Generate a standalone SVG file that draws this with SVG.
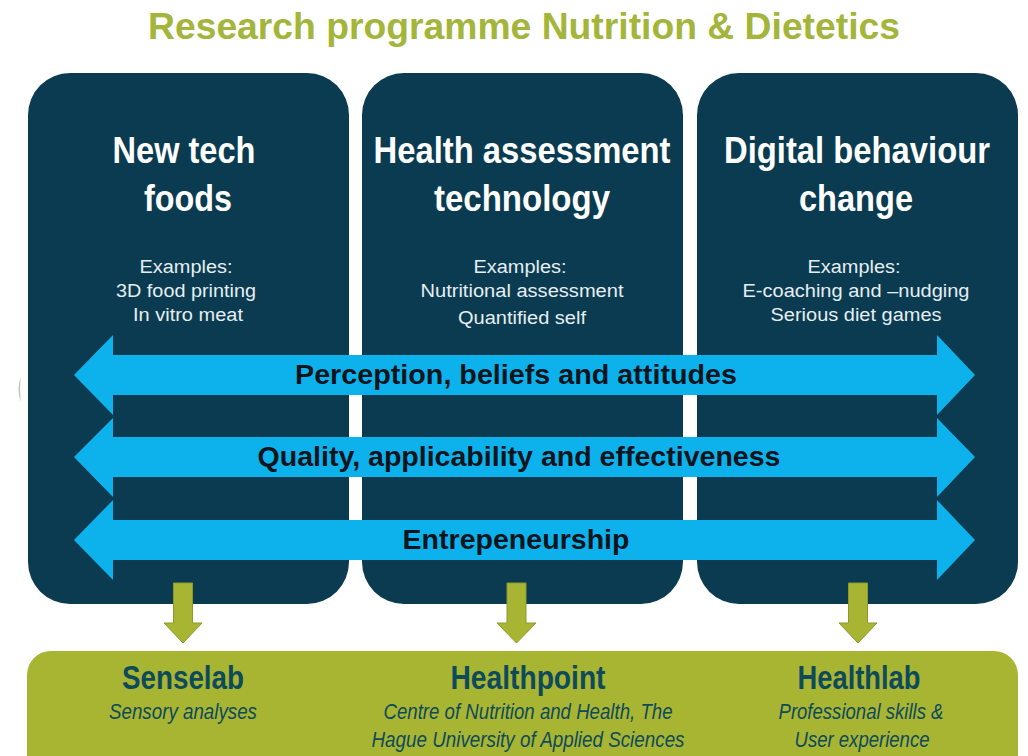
<svg xmlns="http://www.w3.org/2000/svg" width="1028" height="756" viewBox="0 0 1028 756">
  <style>
    .box { fill: #0a3b50; }
    .band { fill: #0db2ec; }
    .gbox { fill: #a8b533; }
    .garrow { fill: #a8b533; stroke: #8c9a2a; stroke-width: 1; }
    .title { font-family: "Liberation Sans", Arial, sans-serif; font-weight: bold; font-size: 36px; fill: #a3b53a; }
    .htitle { font-family: "Liberation Sans", Arial, sans-serif; font-weight: bold; font-size: 37px; fill: #ffffff; text-anchor: middle; }
    .ex { font-family: "Liberation Sans", Arial, sans-serif; font-size: 18px; fill: #e6eef2; text-anchor: middle; }
    .blabel { font-family: "Liberation Sans", Arial, sans-serif; font-weight: bold; font-size: 27px; fill: #06141c; text-anchor: middle; }
    .lab { font-family: "Liberation Sans", Arial, sans-serif; font-weight: bold; font-size: 33px; fill: #0e4a5a; text-anchor: middle; }
    .labsub { font-family: "Liberation Sans", Arial, sans-serif; font-style: italic; font-size: 22px; fill: #0e4a5a; text-anchor: middle; }
  </style>
  <rect width="1028" height="756" fill="#ffffff"/>

  <text class="title" x="148" y="39" textLength="752" lengthAdjust="spacingAndGlyphs">Research programme Nutrition &amp; Dietetics</text>

  <path d="M21 377 Q16 389 21 402 Q19 389 21 377 Z" fill="#bdbdbd"/>

  <g id="node-newtech">
    <rect class="box" x="28" y="73" width="321" height="531" rx="42"/>
    <text class="htitle" x="184" y="163" textLength="143" lengthAdjust="spacingAndGlyphs">New tech</text>
    <text class="htitle" x="188" y="211" textLength="88" lengthAdjust="spacingAndGlyphs">foods</text>
    <text class="ex" x="186" y="273" textLength="93" lengthAdjust="spacingAndGlyphs">Examples:</text>
    <text class="ex" x="186" y="297" textLength="140" lengthAdjust="spacingAndGlyphs">3D food printing</text>
    <text class="ex" x="188" y="321" textLength="110" lengthAdjust="spacingAndGlyphs">In vitro meat</text>
  </g>

  <g id="node-healthassessment">
    <rect class="box" x="362" y="73" width="321" height="531" rx="42"/>
    <text class="htitle" x="522" y="163" textLength="297" lengthAdjust="spacingAndGlyphs">Health assessment</text>
    <text class="htitle" x="522" y="211" textLength="176" lengthAdjust="spacingAndGlyphs">technology</text>
    <text class="ex" x="520" y="273" textLength="93" lengthAdjust="spacingAndGlyphs">Examples:</text>
    <text class="ex" x="522" y="297" textLength="203" lengthAdjust="spacingAndGlyphs">Nutritional assessment</text>
    <text class="ex" x="522" y="324" textLength="128" lengthAdjust="spacingAndGlyphs">Quantified self</text>
  </g>

  <g id="node-digital">
    <rect class="box" x="697" y="73" width="321" height="531" rx="42"/>
    <text class="htitle" x="857" y="163" textLength="266" lengthAdjust="spacingAndGlyphs">Digital behaviour</text>
    <text class="htitle" x="856" y="211" textLength="114" lengthAdjust="spacingAndGlyphs">change</text>
    <text class="ex" x="854" y="273" textLength="93" lengthAdjust="spacingAndGlyphs">Examples:</text>
    <text class="ex" x="856" y="297" textLength="227" lengthAdjust="spacingAndGlyphs">E-coaching and –nudging</text>
    <text class="ex" x="856" y="321" textLength="171" lengthAdjust="spacingAndGlyphs">Serious diet games</text>
  </g>

  <g id="connectors">
    <g id="band-perception">
      <path class="band" d="M74 375 L113 335 L113 355 L937 355 L937 335 L975 375 L937 415 L937 395 L113 395 L113 415 Z"/>
      <text class="blabel" x="516" y="384" textLength="442" lengthAdjust="spacingAndGlyphs">Perception, beliefs and attitudes</text>
    </g>
    <g id="band-quality">
      <path class="band" d="M74 457 L113 418 L113 437 L937 437 L937 418 L975 457 L937 497 L937 477 L113 477 L113 497 Z"/>
      <text class="blabel" x="519" y="466" textLength="523" lengthAdjust="spacingAndGlyphs">Quality, applicability and effectiveness</text>
    </g>
    <g id="band-entrepeneurship">
      <path class="band" d="M74 540 L113 500 L113 520 L937 520 L937 500 L975 540 L937 580 L937 560 L113 560 L113 580 Z"/>
      <text class="blabel" x="516" y="549" textLength="227" lengthAdjust="spacingAndGlyphs">Entrepeneurship</text>
    </g>
    <path class="garrow" d="M173.5 583 L192.5 583 L192.5 623 L202 623 L183 643 L164 623 L173.5 623 Z"/>
    <path class="garrow" d="M507 583 L526 583 L526 623 L536 623 L516.5 643 L497 623 L507 623 Z"/>
    <path class="garrow" d="M848.5 583 L867.5 583 L867.5 623 L877 623 L858 643 L839 623 L848.5 623 Z"/>
  </g>

  <g id="node-labs">
    <rect class="gbox" x="27" y="651" width="991" height="140" rx="24"/>
  </g>
  <g id="node-senselab">
    <text class="lab" x="183" y="689" textLength="122" lengthAdjust="spacingAndGlyphs">Senselab</text>
    <text class="labsub" x="183" y="719" textLength="148" lengthAdjust="spacingAndGlyphs">Sensory analyses</text>
  </g>
  <g id="node-healthpoint">
    <text class="lab" x="528" y="689" textLength="155" lengthAdjust="spacingAndGlyphs">Healthpoint</text>
    <text class="labsub" x="528" y="719" textLength="289" lengthAdjust="spacingAndGlyphs">Centre of Nutrition and Health, The</text>
    <text class="labsub" x="528" y="747" textLength="313" lengthAdjust="spacingAndGlyphs">Hague University of Applied Sciences</text>
  </g>
  <g id="node-healthlab">
    <text class="lab" x="859" y="689" textLength="123" lengthAdjust="spacingAndGlyphs">Healthlab</text>
    <text class="labsub" x="861" y="719" textLength="165" lengthAdjust="spacingAndGlyphs">Professional skills &amp;</text>
    <text class="labsub" x="862" y="747" textLength="135" lengthAdjust="spacingAndGlyphs">User experience</text>
  </g>
</svg>
